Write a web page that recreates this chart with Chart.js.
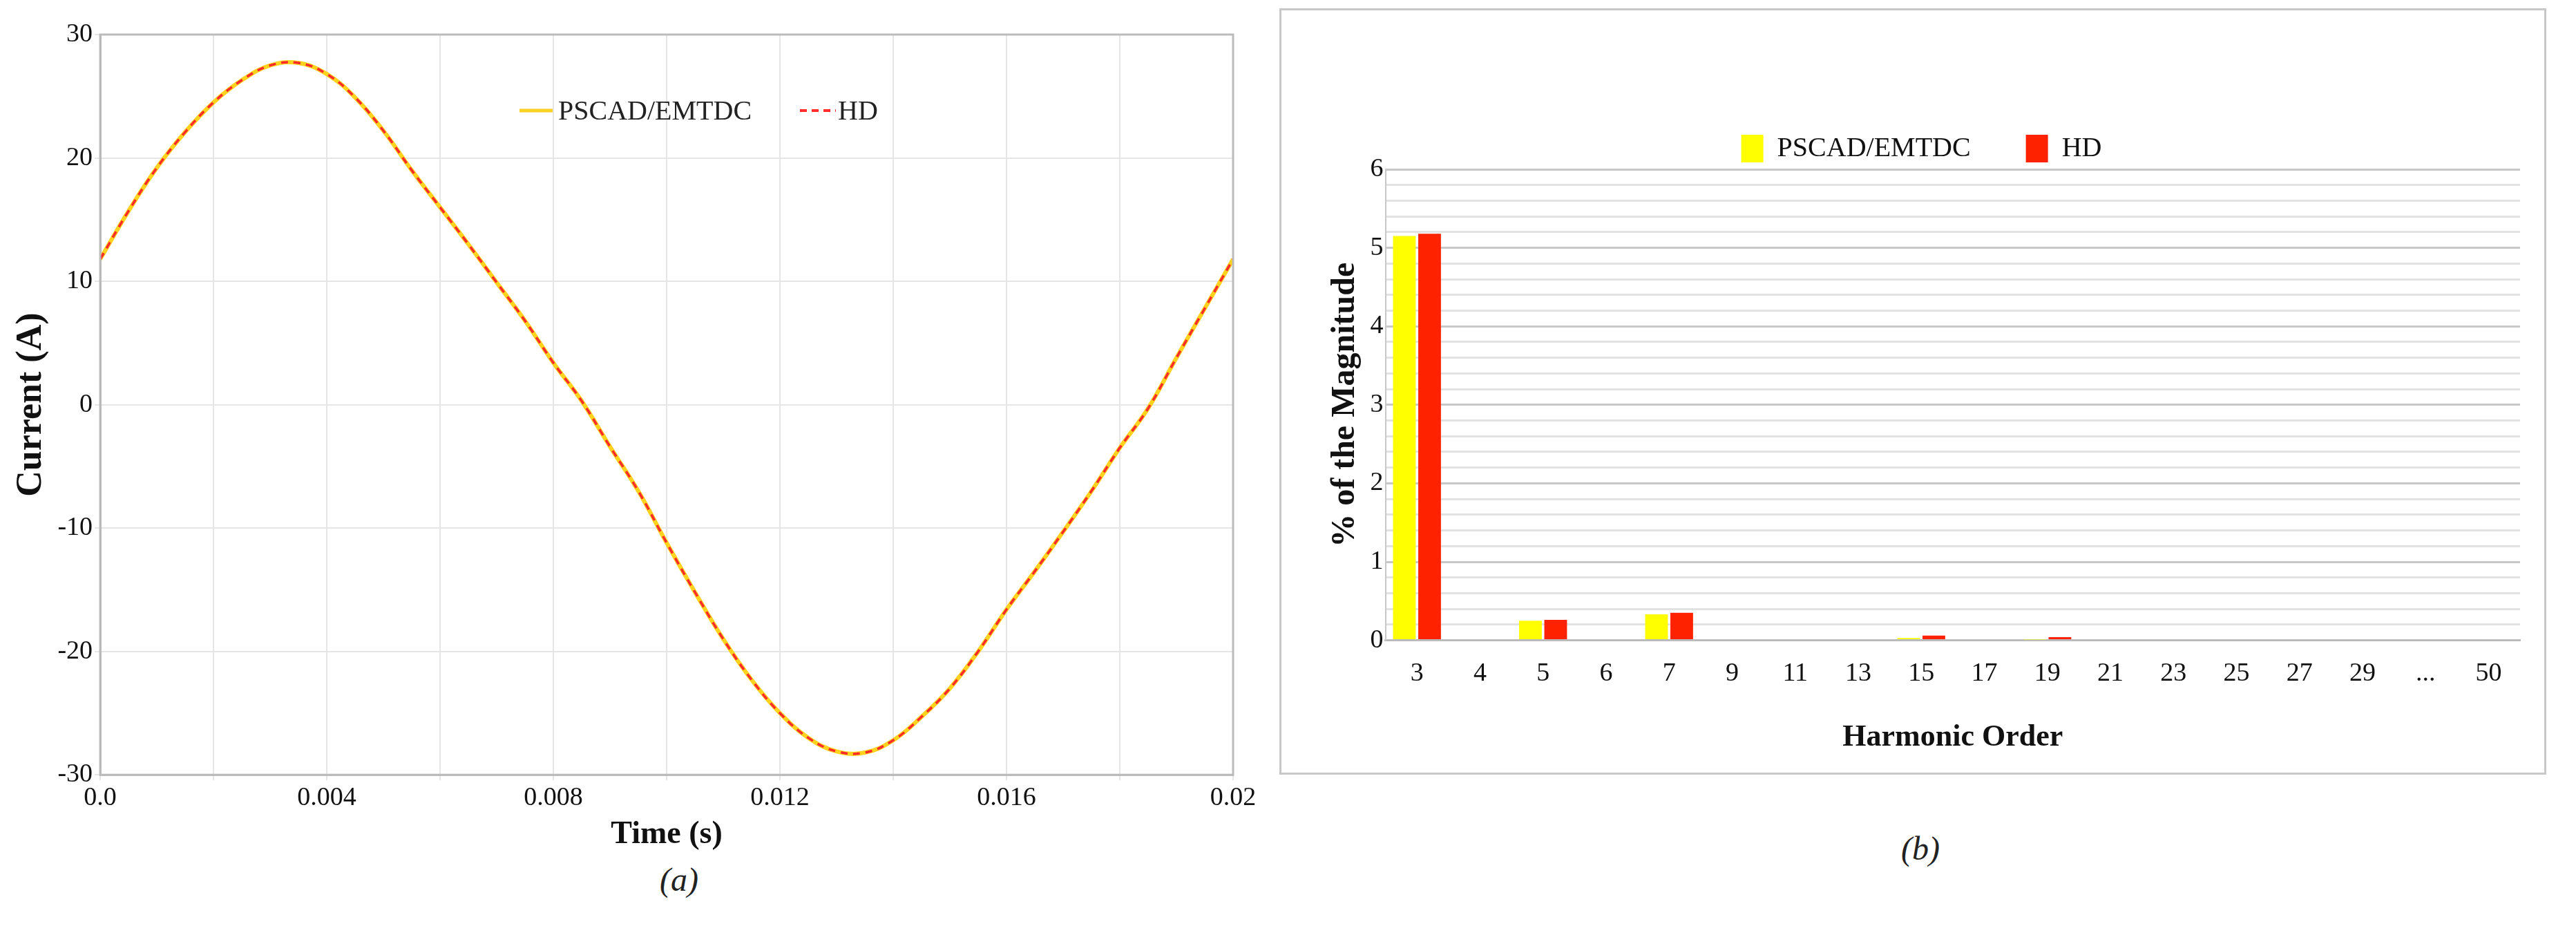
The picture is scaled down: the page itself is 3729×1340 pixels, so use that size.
<!DOCTYPE html>
<html>
<head>
<meta charset="utf-8">
<script src="https://cdn.jsdelivr.net/npm/chart.js@4"></script>
<style>
  body { margin: 0; background: #fff; width: 3729px; height: 1340px; position: relative; font-family: "Liberation Serif", serif; }
  #leftBox { position: absolute; left: 0; top: 0; width: 1830px; height: 1240px; }
  #rightBox { position: absolute; left: 1852px; top: 12px; width: 1828px; height: 1103px; border: 3px solid #c8c8c8; }
  .cap { position: absolute; font-style: italic; font-size: 48px; color: #222; }
</style>
</head>
<body>
<div id="leftBox"><canvas id="waveChart"></canvas></div>
<div id="rightBox"><canvas id="harmChart"></canvas></div>
<div class="cap" style="left:955px; top:1245px;">(a)</div>
<div class="cap" style="left:2752px; top:1200px;">(b)</div>
<script>
// time axis (s) and current (A)
const times = [0, 0.0005, 0.001, 0.0015, 0.002, 0.0025, 0.003, 0.0035, 0.004, 0.0045, 0.005,
  0.0055, 0.006, 0.0065, 0.007, 0.0075, 0.008, 0.0085, 0.009, 0.0095, 0.01,
  0.0105, 0.011, 0.0115, 0.012, 0.0125, 0.013, 0.0135, 0.014, 0.0145, 0.015,
  0.0155, 0.016, 0.0165, 0.017, 0.0175, 0.018, 0.0185, 0.019, 0.0195, 0.02];
const pscadCurrent = [11.8, 15.7, 19.2, 22.1, 24.5, 26.3, 27.5, 27.7, 26.8, 24.9, 22.2,
  19.0, 16.0, 13.0, 9.9, 6.8, 3.4, 0.3, -3.4, -7.0, -11.2,
  -15.2, -19.0, -22.3, -25.0, -27.0, -28.1, -28.2, -27.2, -25.3, -23.0,
  -20.0, -16.6, -13.5, -10.3, -7.0, -3.5, -0.3, 3.8, 7.8, 11.8];
const hdCurrent = pscadCurrent.slice();

// harmonic spectrum, panel (b)
const harmonicOrders = ['3', '4', '5', '6', '7', '9', '11', '13', '15', '17', '19', '21', '23', '25', '27', '29', '...', '50'];
const pscadHarm = [5.15, 0, 0.25, 0, 0.33, 0, 0, 0, 0.03, 0, 0.01, 0, 0, 0, 0, 0, 0, 0];
const hdHarm = [5.18, 0, 0.26, 0, 0.35, 0, 0, 0, 0.06, 0, 0.04, 0, 0, 0, 0, 0, 0, 0];

const serif = 'Liberation Serif';
const tickFont = { family: serif, size: 38 };

// legend drawn inside the plot area of panel (a)
const innerLegend = {
  id: 'innerLegend',
  afterDraw(chart) {
    const ctx = chart.ctx;
    const y = 160;
    ctx.save();
    ctx.lineWidth = 5;
    ctx.strokeStyle = '#ffd21e';
    ctx.beginPath(); ctx.moveTo(752, y); ctx.lineTo(800, y); ctx.stroke();
    ctx.fillStyle = '#222';
    ctx.font = '40px ' + serif;
    ctx.textBaseline = 'middle';
    ctx.fillText('PSCAD/EMTDC', 808, y + 2);
    ctx.strokeStyle = '#ff2a2a';
    ctx.lineWidth = 4;
    ctx.setLineDash([10, 7]);
    ctx.beginPath(); ctx.moveTo(1158, y); ctx.lineTo(1210, y); ctx.stroke();
    ctx.setLineDash([]);
    ctx.fillText('HD', 1213, y + 2);
    ctx.restore();
  }
};

new Chart(document.getElementById('waveChart'), {
  type: 'line',
  data: {
    datasets: [
      { label: 'PSCAD/EMTDC', order: 1, data: times.map((t, i) => ({ x: t, y: pscadCurrent[i] })), borderColor: '#ffd21e', borderWidth: 6, pointRadius: 0, tension: 0.4 },
      { label: 'HD', order: 0, data: times.map((t, i) => ({ x: t, y: hdCurrent[i] })), borderColor: '#ff2a2a', borderWidth: 3.5, borderDash: [10, 8], pointRadius: 0, tension: 0.4 }
    ]
  },
  options: {
    responsive: true, maintainAspectRatio: false, animation: false,
    layout: { padding: { top: 50, right: 45, left: 10 } },
    plugins: { legend: { display: false }, tooltip: { enabled: false } },
    scales: {
      x: {
        type: 'linear', min: 0, max: 0.02,
        ticks: { stepSize: 0.002, color: '#111', font: tickFont, maxRotation: 0,
          callback: (v, i) => i % 2 ? '' : (v === 0 ? '0.0' : String(+v.toFixed(3))) },
        grid: { color: '#e6e6e6', lineWidth: 2 },
        border: { color: '#bbb', width: 3 },
        title: { display: true, text: 'Time (s)', color: '#111', font: { family: serif, size: 46, weight: 'bold' }, padding: { top: 0 } }
      },
      y: {
        min: -30, max: 30,
        ticks: { stepSize: 10, color: '#111', font: tickFont },
        grid: { color: '#e6e6e6', lineWidth: 2 },
        border: { color: '#bbb', width: 3 },
        title: { display: true, text: 'Current (A)', color: '#111', font: { family: serif, size: 52, weight: 'bold' } }
      }
    }
  },
  plugins: [innerLegend, {
    id: 'frame',
    afterDraw(chart) {
      const a = chart.chartArea, ctx = chart.ctx;
      ctx.save(); ctx.strokeStyle = '#bbb'; ctx.lineWidth = 3;
      ctx.strokeRect(a.left, a.top, a.right - a.left, a.bottom - a.top); ctx.restore();
    }
  }]
});

new Chart(document.getElementById('harmChart'), {
  type: 'bar',
  data: {
    labels: harmonicOrders,
    datasets: [
      { label: 'PSCAD/EMTDC', data: pscadHarm, backgroundColor: '#ffff00', categoryPercentage: 0.8, barPercentage: 0.9 },
      { label: 'HD', data: hdHarm, backgroundColor: '#ff2200', categoryPercentage: 0.8, barPercentage: 0.9 }
    ]
  },
  options: {
    responsive: true, maintainAspectRatio: false, animation: false,
    layout: { padding: { top: 100, right: 35, left: 60, bottom: 20 } },
    plugins: {
      tooltip: { enabled: false },
      legend: {
        labels: { boxWidth: 32, boxHeight: 40, padding: 80, color: '#111', font: { family: serif, size: 40 } },
        onClick: null
      }
    },
    scales: {
      x: {
        ticks: { color: '#111', font: tickFont, padding: 18 },
        grid: { display: false },
        border: { color: '#bbb', width: 3 },
        title: { display: true, text: 'Harmonic Order', color: '#111', font: { family: serif, size: 44, weight: 'bold' }, padding: { top: 25 } }
      },
      y: {
        min: 0, max: 6,
        ticks: { stepSize: 0.2, color: '#111', font: tickFont, autoSkip: false,
          callback: v => Math.abs(v - Math.round(v)) < 1e-6 ? String(Math.round(v)) : '' },
        grid: { lineWidth: 3, drawTicks: false,
          color: c => Math.abs(c.tick.value - Math.round(c.tick.value)) < 1e-6 ? '#c8c8c8' : '#e2e2e2' },
        border: { color: '#c8c8c8', width: 2 },
        title: { display: true, text: '% of the Magnitude', color: '#111', font: { family: serif, size: 48, weight: 'bold' } }
      }
    }
  },
  plugins: [{
    id: 'legendTop',
    afterFit: null,
    beforeInit(chart) {
      // pull the legend up toward the panel border
      const orig = chart.legend;
    }
  }]
});
</script>
</body>
</html>
